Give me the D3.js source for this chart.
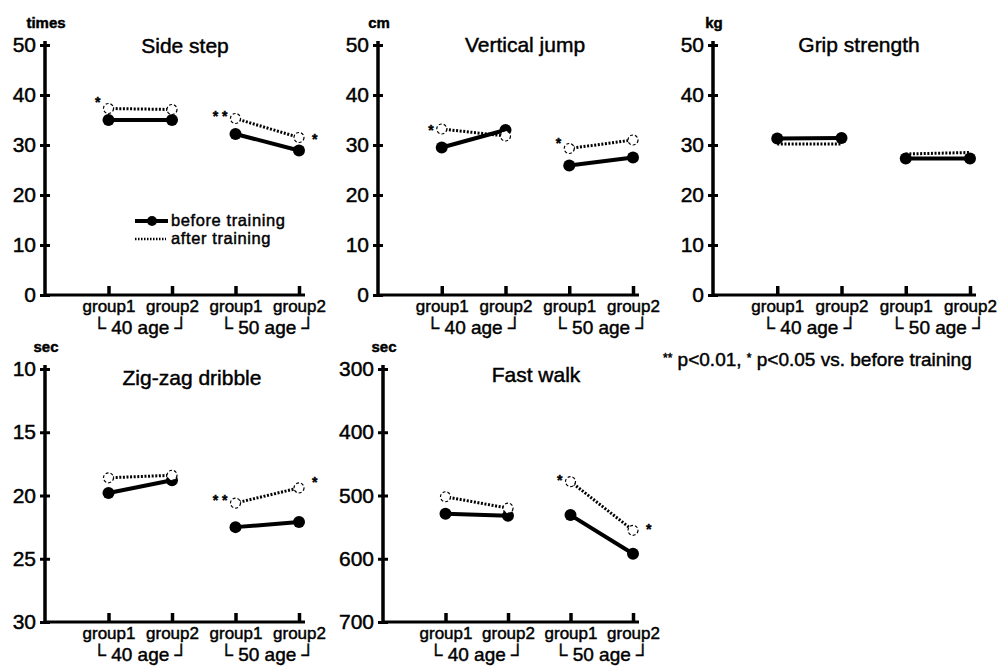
<!DOCTYPE html>
<html>
<head>
<meta charset="utf-8">
<script src="https://cdn.jsdelivr.net/npm/d3@7"></script>
<style>
body { margin: 0; background: #fff; }
text { font-family: "Liberation Sans", Arial, Helvetica, sans-serif; fill: #000; stroke: #000; stroke-width: 0.45px; }
</style>
</head>
<body>
<div id="chart"></div>
<script>
// categories
var groups = ["40-1", "40-2", "50-1", "50-2"];
var groupLabels = ["group1", "group2", "group1", "group2"];
var ageLabels = ["\u2514 40 age \u2518", "\u2514 50 age \u2518"];

// values (group1/40, group2/40, group1/50, group2/50)
var sideStepBefore = [35, 35, 32.2, 28.9];
var sideStepAfter = [37.3, 37.1, 35.3, 31.5];
var verticalJumpBefore = [29.5, 33, 25.9, 27.5];
var verticalJumpAfter = [33.2, 31.8, 29.3, 31];
var gripBefore = [31.3, 31.4, 27.3, 27.3];
var gripAfter = [30.2, 30.2, 28.2, 28.5];
var dribbleBefore = [19.8, 18.8, 22.5, 22.1];
var dribbleAfter = [18.6, 18.4, 20.6, 19.4];
var walkBefore = [529, 532, 531, 592];
var walkAfter = [502, 520, 478, 555];

// significance marks: [group, value, mark, side]
var sideStepStars = [["40-1", 39.3, "*", "left"], ["50-1", 36.5, "* *", "left"], ["50-2", 31.8, "*", "right"]];
var verticalJumpStars = [["40-1", 33.7, "*", "left"], ["50-1", 31, "*", "left"]];
var gripStars = [];
var dribbleStars = [["50-1", 20.15, "* *", "left"], ["50-2", 18.7, "*", "right"]];
var walkStars = [["50-1", 470, "*", "left"], ["50-2", 549, "*", "right"]];

var sideStepTicks = [0, 10, 20, 30, 40, 50];
var dribbleTicks = [10, 15, 20, 25, 30];
var walkTicks = [300, 400, 500, 600, 700];

// layout of the five panels
var panels = [
    { title: "Side step", unit: "times", before: sideStepBefore, after: sideStepAfter, stars: sideStepStars,
      domain: [0, 50], ticks: sideStepTicks, left: 45, right: 299, top: 45, bottom: 295, titleX: 185, titleY: 53, afterMarks: true },
    { title: "Vertical jump", unit: "cm", before: verticalJumpBefore, after: verticalJumpAfter, stars: verticalJumpStars,
      domain: [0, 50], ticks: sideStepTicks, left: 378, right: 633, top: 45, bottom: 295, titleX: 525, titleY: 52, afterMarks: true },
    { title: "Grip strength", unit: "kg", before: gripBefore, after: gripAfter, stars: gripStars,
      domain: [0, 50], ticks: sideStepTicks, left: 713, right: 970, top: 45, bottom: 295, titleX: 859, titleY: 52, afterMarks: false },
    { title: "Zig-zag dribble", unit: "sec", before: dribbleBefore, after: dribbleAfter, stars: dribbleStars,
      domain: [30, 10], ticks: dribbleTicks, left: 45, right: 299, top: 369, bottom: 622, titleX: 192, titleY: 385, afterMarks: true },
    { title: "Fast walk", unit: "sec", before: walkBefore, after: walkAfter, stars: walkStars,
      domain: [700, 300], ticks: walkTicks, left: 383, right: 633, top: 369, bottom: 622, titleX: 536, titleY: 382, afterMarks: true }
];

var svg = d3.select("#chart")
    .append("svg")
    .attr("width", 998)
    .attr("height", 668);

panels.forEach(function(p) {
    var x = d3.scalePoint()
        .domain([""].concat(groups))
        .range([p.left, p.right]);
    var y = d3.scaleLinear()
        .domain(p.domain)
        .range([p.bottom, p.top]);

    var g = svg.append("g");

    // y axis with ticks crossing the line
    var yaxis = g.append("g")
        .attr("transform", "translate(" + p.left + ",0)")
        .call(d3.axisLeft(y).tickValues(p.ticks).tickSizeInner(5).tickSizeOuter(0).tickPadding(4));
    yaxis.select(".domain").remove();
    yaxis.selectAll(".tick line").attr("x1", 5).attr("stroke-width", 3);
    yaxis.selectAll("text").attr("font-size", 21).attr("font-family", null);
    g.append("line")
        .attr("x1", p.left).attr("x2", p.left)
        .attr("y1", p.bottom + 1.5).attr("y2", p.top - 4)
        .attr("stroke", "#000").attr("stroke-width", 3.5);

    // x axis, ticks pointing up
    var xaxis = g.append("g")
        .attr("transform", "translate(0," + p.bottom + ")")
        .call(d3.axisBottom(x).tickValues(groups).tickSizeInner(-9).tickSizeOuter(0).tickPadding(5)
            .tickFormat(function(d, i) { return groupLabels[i]; }));
    xaxis.select(".domain").remove();
    xaxis.selectAll(".tick line").attr("stroke-width", 3.5);
    xaxis.selectAll("text").attr("font-size", 17).attr("font-family", null);
    g.append("line")
        .attr("x1", p.left).attr("x2", p.right + 6)
        .attr("y1", p.bottom).attr("y2", p.bottom)
        .attr("stroke", "#000").attr("stroke-width", 3);

    // age brackets
    ageLabels.forEach(function(lab, i) {
        g.append("text")
            .attr("x", (x(groups[i * 2]) + x(groups[i * 2 + 1])) / 2)
            .attr("y", p.bottom + 39)
            .attr("text-anchor", "middle")
            .attr("font-size", 19)
            .text(lab);
    });

    // unit + title
    g.append("text")
        .attr("x", p.left + 1)
        .attr("y", p.top - 17)
        .attr("text-anchor", "middle")
        .attr("font-size", 15)
        .attr("font-weight", "bold")
        .text(p.unit);
    g.append("text")
        .attr("x", p.titleX)
        .attr("y", p.titleY)
        .attr("text-anchor", "middle")
        .attr("font-size", 21)
        .text(p.title);

    // before training: solid line + filled dots, one segment per age group
    [0, 2].forEach(function(k) {
        var seg = [k, k + 1];
        g.append("line")
            .attr("x1", x(groups[k])).attr("y1", y(p.before[k]))
            .attr("x2", x(groups[k + 1])).attr("y2", y(p.before[k + 1]))
            .attr("stroke", "#000").attr("stroke-width", 4);
        g.selectAll(null)
            .data(seg)
            .enter()
            .append("circle")
            .attr("cx", function(i) { return x(groups[i]); })
            .attr("cy", function(i) { return y(p.before[i]); })
            .attr("r", 6)
            .attr("fill", "#000");
    });

    // after training: dotted line + open circles
    [0, 2].forEach(function(k) {
        var seg = [k, k + 1];
        g.append("line")
            .attr("x1", x(groups[k])).attr("y1", y(p.after[k]))
            .attr("x2", x(groups[k + 1])).attr("y2", y(p.after[k + 1]))
            .attr("stroke", "#000").attr("stroke-width", 3)
            .attr("stroke-dasharray", "2,1.6");
        if (p.afterMarks) {
            g.selectAll(null)
                .data(seg)
                .enter()
                .append("circle")
                .attr("cx", function(i) { return x(groups[i]); })
                .attr("cy", function(i) { return y(p.after[i]); })
                .attr("r", 5)
                .attr("fill", "#fff")
                .attr("stroke", "#000")
                .attr("stroke-width", 1.2)
                .attr("stroke-dasharray", "3,2");
        }
    });

    // significance marks
    p.stars.forEach(function(s) {
        var left = s[3] === "left";
        g.append("text")
            .attr("x", x(s[0]) + (left ? -8 : 13))
            .attr("y", y(s[1]) + 8)
            .attr("text-anchor", left ? "end" : "start")
            .attr("font-size", 14)
            .attr("font-weight", "bold")
            .text(s[2]);
    });
});

// legend inside the first panel
var legend = svg.append("g");
legend.append("line")
    .attr("x1", 135).attr("x2", 168).attr("y1", 221).attr("y2", 221)
    .attr("stroke", "#000").attr("stroke-width", 4);
legend.append("circle").attr("cx", 152).attr("cy", 221).attr("r", 5).attr("fill", "#000");
legend.append("text").attr("x", 171).attr("y", 226).attr("font-size", 16.5)
    .attr("letter-spacing", 0.6).text("before training");
legend.append("line")
    .attr("x1", 135).attr("x2", 166).attr("y1", 239).attr("y2", 239)
    .attr("stroke", "#000").attr("stroke-width", 2.5).attr("stroke-dasharray", "1.5,1.5");
legend.append("text").attr("x", 171).attr("y", 244).attr("font-size", 16.5)
    .attr("letter-spacing", 0.6).text("after training");

// footnote
var note = svg.append("text").attr("x", 663).attr("y", 366).attr("font-size", 19);
note.append("tspan").attr("font-size", 12).attr("dy", -4).text("**");
note.append("tspan").attr("dy", 4).text(" p<0.01, ");
note.append("tspan").attr("font-size", 12).attr("dy", -4).text("*");
note.append("tspan").attr("dy", 4).text(" p<0.05 vs. before training");
</script>
</body>
</html>
